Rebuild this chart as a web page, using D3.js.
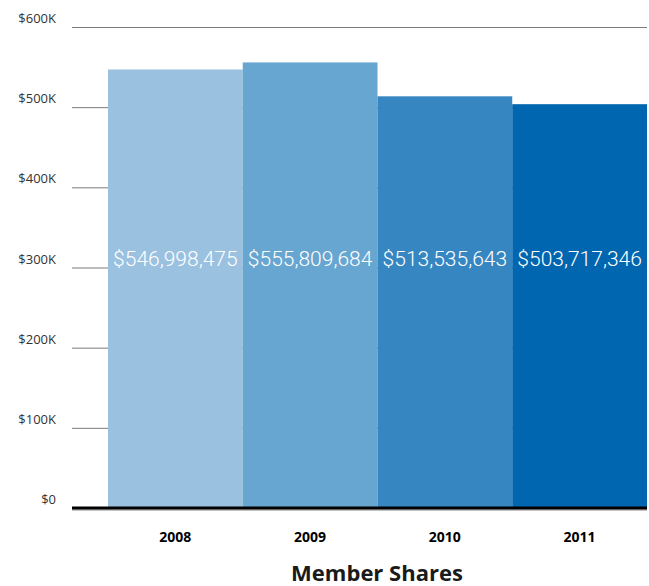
<!DOCTYPE html>
<html>
<head>
<meta charset="utf-8">
<script src="https://cdn.jsdelivr.net/npm/d3@7"></script>
<style>
  body { margin: 0; background: #fff; }
  svg { display: block; }
</style>
</head>
<body>
<svg></svg>
<script>
let width = 649, height = 586;

// chart data
const years = ["2008", "2009", "2010", "2011"];
const shares = [546998475, 555809684, 513535643, 503717346];
const barColors = ["#9bc1e0", "#67a6d0", "#3686c2", "#0066b0"];
const tickValues = [0, 100, 200, 300, 400, 500, 600];
const tickLabels = ["$0", "$100K", "$200K", "$300K", "$400K", "$500K", "$600K"];

let svg = d3.select("svg")
    .attr("width", width)
    .attr("height", height);

let plotLeft = 72, plotRight = 647, plotTop = 27, plotBottom = 508;

let x = d3.scaleBand()
    .domain(years)
    .range([108, plotRight])
    .padding(0);

// axis is in thousands of thousands
let y = d3.scaleLinear()
    .domain([0, 600])
    .range([plotBottom, plotTop]);

// gridlines
svg.append("g")
    .selectAll("line")
    .data(tickValues)
    .enter()
    .append("line")
    .attr("x1", plotLeft)
    .attr("x2", plotRight)
    .attr("y1", d => y(d) + 0.5)
    .attr("y2", d => y(d) + 0.5)
    .attr("stroke", "#7a7a7a")
    .attr("stroke-width", 1);

// y labels
svg.append("g")
    .selectAll("text")
    .data(tickValues)
    .enter()
    .append("text")
    .attr("x", 56)
    .attr("y", d => y(d) - 4)
    .attr("text-anchor", "end")
    .attr("font-family", "'Open Sans', sans-serif")
    .attr("font-size", 13)
    .attr("fill", "#333")
    .text((d, i) => tickLabels[i]);

// bars
svg.append("g")
    .selectAll("rect")
    .data(shares)
    .enter()
    .append("rect")
    .attr("x", (d, i) => x(years[i]))
    .attr("width", x.bandwidth())
    .attr("y", d => y(d / 1e6))
    .attr("height", d => plotBottom - y(d / 1e6))
    .attr("fill", (d, i) => barColors[i]);

// value labels
svg.append("g")
    .selectAll("text")
    .data(shares)
    .enter()
    .append("text")
    .attr("x", (d, i) => x(years[i]) + x.bandwidth() / 2)
    .attr("y", 266)
    .attr("text-anchor", "middle")
    .attr("font-family", "Roboto, sans-serif")
    .attr("font-weight", 300)
    .attr("font-size", 21)
    .attr("fill", "#fff")
    .text(d => "$" + d3.format(",")(d));

// baseline
svg.append("line")
    .attr("x1", plotLeft).attr("x2", plotRight)
    .attr("y1", plotBottom + 2).attr("y2", plotBottom + 2)
    .attr("stroke", "#888").attr("stroke-width", 1);
svg.append("line")
    .attr("x1", plotLeft).attr("x2", plotRight)
    .attr("y1", plotBottom).attr("y2", plotBottom)
    .attr("stroke", "#000").attr("stroke-width", 3);

// year labels
svg.append("g")
    .selectAll("text")
    .data(years)
    .enter()
    .append("text")
    .attr("x", d => x(d) + x.bandwidth() / 2)
    .attr("y", 542)
    .attr("text-anchor", "middle")
    .attr("font-family", "'Open Sans', sans-serif")
    .attr("font-weight", "bold")
    .attr("font-size", 14)
    .attr("fill", "#000")
    .text(d => d);

// title
svg.append("text")
    .attr("x", 377)
    .attr("y", 581)
    .attr("text-anchor", "middle")
    .attr("font-family", "'Open Sans', sans-serif")
    .attr("font-weight", "bold")
    .attr("font-size", 22)
    .attr("fill", "#1a1a1a")
    .text("Member Shares");
</script>
</body>
</html>
